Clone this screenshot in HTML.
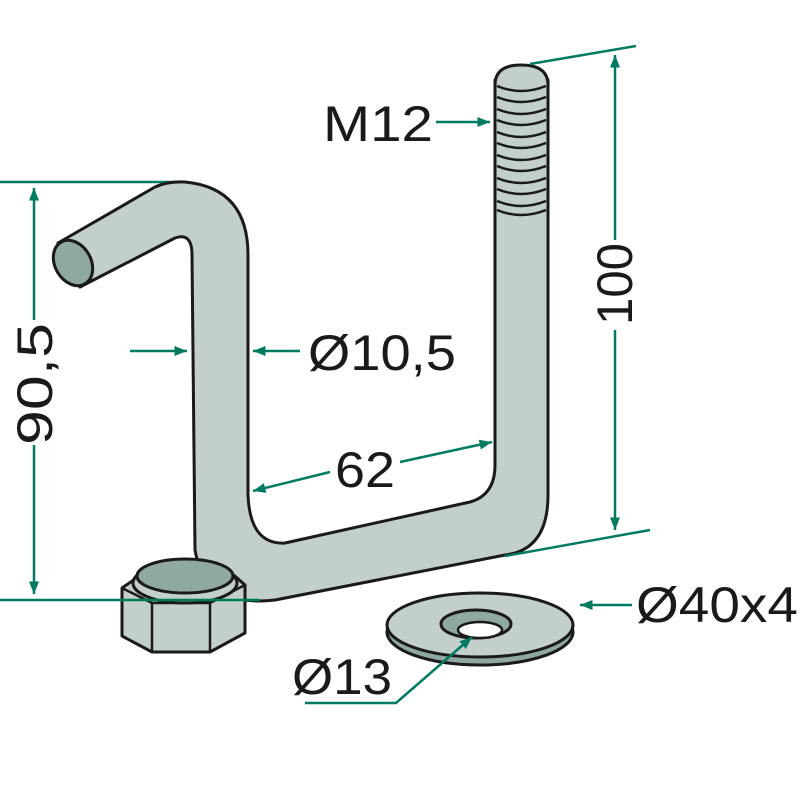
<!DOCTYPE html>
<html><head><style>html,body{margin:0;padding:0;background:#fff;width:800px;height:800px;overflow:hidden}</style></head>
<body>
<svg width="800" height="800" viewBox="0 0 800 800" xmlns="http://www.w3.org/2000/svg">
<defs>
<marker id="a" viewBox="0 0 10 10" refX="10" refY="5" markerWidth="5" markerHeight="5" orient="auto-start-reverse"><path d="M0,1 L10,5 L0,9 z" fill="#007a60"/></marker>
</defs>
<g fill="none" stroke="#007a60" stroke-width="2.5">
<line x1="0" y1="182" x2="182" y2="182"/>
</g>
<path d="M58,243 L155,187 Q168,181 185,182 Q248,188 248,255 L248,495 Q250,545 285,543 L470,502 Q495,495 495,465 L495,80 L548,80 L548,495 Q548,550 505,555 L275,600 Q205,608 195,550 L192,255 Q192,232 175,238 L80,287 Z" fill="#c3cfcb" stroke="#1a1a1a" stroke-width="3" stroke-linejoin="round"/>
<ellipse cx="73" cy="263" rx="18" ry="24" transform="rotate(-30 73 263)" fill="#8fa9a2" stroke="#1a1a1a" stroke-width="3"/>
<path d="M495,85 Q495,65 521,65 Q548,65 548,85" fill="#c3cfcb" stroke="#1a1a1a" stroke-width="3"/>
<g fill="none" stroke="#1a1a1a" stroke-width="2.5">
<path d="M497,86 Q521,96 546,86"/><path d="M497,97 Q521,107 546,97"/>
<path d="M497,109 Q521,119 546,109"/><path d="M497,120 Q521,130 546,120"/>
<path d="M497,132 Q521,142 546,132"/><path d="M497,143 Q521,153 546,143"/>
<path d="M497,155 Q521,165 546,155"/><path d="M497,166 Q521,176 546,166"/>
<path d="M497,178 Q521,188 546,178"/><path d="M497,189 Q521,199 546,189"/>
<path d="M497,201 Q521,211 546,201"/><path d="M497,210 Q521,220 546,210"/>
</g>
<path d="M122,588 L148,570 L228,570 L245,585 L245,633 L210,652 L152,652 L122,636 Z" fill="#c3cfcb" stroke="#1a1a1a" stroke-width="3" stroke-linejoin="round"/>
<path d="M122,588 L152,603 L210,603 L245,585 M152,603 L152,652 M210,603 L210,652" fill="none" stroke="#1a1a1a" stroke-width="2.5"/>
<ellipse cx="185" cy="583" rx="52" ry="20" fill="#c3cfcb" stroke="#1a1a1a" stroke-width="3"/>
<ellipse cx="185" cy="576" rx="48" ry="17" fill="#8fa9a2" stroke="#1a1a1a" stroke-width="3"/>
<line x1="0" y1="600" x2="260" y2="600" stroke="#007a60" stroke-width="2.5"/>
<ellipse cx="480" cy="632" rx="93" ry="33" fill="#8fa9a2" stroke="#1a1a1a" stroke-width="3"/>
<ellipse cx="480" cy="625" rx="93" ry="32" fill="#c3cfcb" stroke="#1a1a1a" stroke-width="3"/>
<ellipse cx="476" cy="624" rx="35" ry="14" fill="#8fa9a2" stroke="#1a1a1a" stroke-width="3"/>
<ellipse cx="480" cy="630" rx="22" ry="8" fill="#fff" stroke="#1a1a1a" stroke-width="2.5"/>
<g fill="none" stroke="#007a60" stroke-width="2.5">
<line x1="34" y1="188" x2="34" y2="320" marker-start="url(#a)"/>
<line x1="34" y1="445" x2="34" y2="594" marker-end="url(#a)"/>
<line x1="130" y1="351" x2="187" y2="351" marker-end="url(#a)"/>
<line x1="300" y1="351" x2="253" y2="351" marker-end="url(#a)"/>
<line x1="330" y1="472" x2="253" y2="491" marker-end="url(#a)"/>
<line x1="400" y1="462" x2="492" y2="442" marker-end="url(#a)"/>
<line x1="436" y1="122" x2="490" y2="122" marker-end="url(#a)"/>
<line x1="530" y1="64" x2="636" y2="46"/>
<line x1="615" y1="55" x2="615" y2="240" marker-start="url(#a)"/>
<line x1="615" y1="330" x2="615" y2="530" marker-end="url(#a)"/>
<line x1="505" y1="556" x2="650" y2="530"/>
<line x1="632" y1="605" x2="580" y2="605" marker-end="url(#a)"/>
<polyline points="305,703 396,703 472,637" marker-end="url(#a)"/>
</g>
<g font-family="Liberation Sans, sans-serif" font-size="50" fill="#1a1a1a">
<text x="323" y="141" textLength="110" lengthAdjust="spacingAndGlyphs">M12</text>
<text x="308" y="370" textLength="148" lengthAdjust="spacingAndGlyphs">Ø10,5</text>
<text x="335" y="487" textLength="60" lengthAdjust="spacingAndGlyphs">62</text>
<text x="636" y="622" textLength="162" lengthAdjust="spacingAndGlyphs">Ø40x4</text>
<text x="292" y="694" textLength="100" lengthAdjust="spacingAndGlyphs">Ø13</text>
<text transform="translate(52,445) rotate(-90)" textLength="122" lengthAdjust="spacingAndGlyphs">90,5</text>
<text transform="translate(632,325) rotate(-90)" textLength="82" lengthAdjust="spacingAndGlyphs">100</text>
</g>
</svg>
</body></html>
